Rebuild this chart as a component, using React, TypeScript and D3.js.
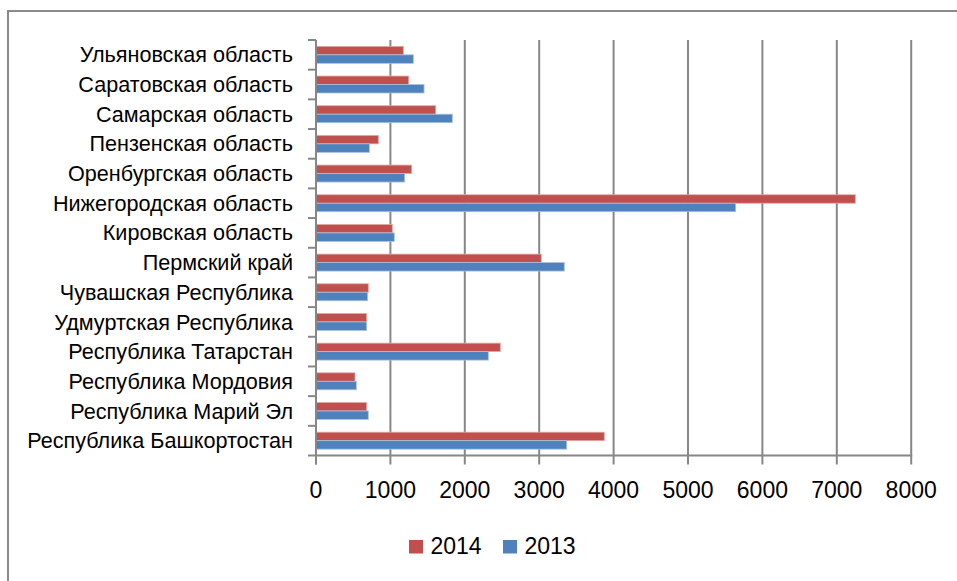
import React from "react";
import * as d3 from "d3";

const categories = [
  "Ульяновская область",
  "Саратовская область",
  "Самарская область",
  "Пензенская область",
  "Оренбургская область",
  "Нижегородская область",
  "Кировская область",
  "Пермский край",
  "Чувашская Республика",
  "Удмуртская Республика",
  "Республика Татарстан",
  "Республика Мордовия",
  "Республика Марий Эл",
  "Республика Башкортостан",
];

const values2014 = [1174, 1246, 1609, 838, 1286, 7249, 1026, 3028, 703, 681, 2477, 524, 681, 3875];
const values2013 = [1308, 1452, 1832, 717, 1192, 5641, 1052, 3337, 694, 681, 2316, 542, 703, 3370];

const seriesNames = ["2014", "2013"];
const seriesColors = ["#C0504D", "#4F81BD"];
const xTicks = [0, 1000, 2000, 3000, 4000, 5000, 6000, 7000, 8000];

const W = 957;
const H = 581;
const FONT = "'Liberation Sans', Arial, sans-serif";

export default function App() {
  const left = 316;
  const right = 911.2;
  const top = 40;
  const bottom = 455.5;

  const x = d3.scaleLinear().domain([0, 8000]).range([left, right]);
  const y = d3
    .scaleBand<string>()
    .domain(categories)
    .range([top, bottom])
    .paddingInner(1.5 / 3.5)
    .paddingOuter(0.75 / 3.5);
  const ys = d3.scaleBand<string>().domain(seriesNames).range([0, y.bandwidth()]);
  const seriesValues = [values2014, values2013];
  const step = y.step();
  const gridColor = "#878787";

  return (
    <svg
      width={W}
      height={H}
      style={{ position: "absolute", left: 0, top: 0, background: "#fff" }}
      fontFamily={FONT}
    >
      <rect x={0} y={0} width={W} height={H} fill="#fff" />
      {/* outer frame */}
      <rect x={8} y={11} width={W + 10} height={H + 10} fill="none" stroke="#8a8a8a" strokeWidth={2} />

      {/* gridlines */}
      {xTicks.slice(1).map((t) => (
        <line key={"g" + t} x1={x(t)} x2={x(t)} y1={top} y2={bottom} stroke={gridColor} strokeWidth={2} />
      ))}

      {/* bars */}
      {categories.map((c, i) =>
        seriesNames.map((s, j) => {
          const v = seriesValues[j][i];
          const by = (y(c) ?? 0) + (ys(s) ?? 0);
          return (
            <rect
              key={c + s}
              x={x(0)}
              y={by}
              width={x(v) - x(0)}
              height={ys.bandwidth()}
              fill={seriesColors[j]}
              stroke={j === 0 ? "#e3a9a7" : "#a9c1de"}
              strokeWidth={0.8}
            />
          );
        })
      )}

      {/* axes */}
      <line x1={left} x2={left} y1={top} y2={bottom + 9} stroke={gridColor} strokeWidth={2} />
      <line x1={left - 8} x2={right + 1} y1={bottom} y2={bottom} stroke={gridColor} strokeWidth={2} />
      {d3.range(categories.length).map((i) => (
        <line
          key={"ct" + i}
          x1={left - 8}
          x2={left}
          y1={top + i * step}
          y2={top + i * step}
          stroke={gridColor}
          strokeWidth={2}
        />
      ))}
      {xTicks.map((t) => (
        <line key={"xt" + t} x1={x(t)} x2={x(t)} y1={bottom} y2={bottom + 9} stroke={gridColor} strokeWidth={2} />
      ))}

      {/* category labels */}
      {categories.map((c) => (
        <text
          key={"l" + c}
          x={293}
          y={(y(c) ?? 0) + y.bandwidth() / 2}
          dy="0.35em"
          textAnchor="end"
          fontSize={21.6}
          fill="#000"
        >
          {c}
        </text>
      ))}

      {/* x tick labels */}
      {xTicks.map((t) => (
        <text key={"xl" + t} x={x(t)} y={498} textAnchor="middle" fontSize={23} fill="#000">
          {t}
        </text>
      ))}

      {/* legend */}
      {seriesNames.map((s, j) => {
        const lx = j === 0 ? 409 : 503;
        return (
          <g key={"lg" + s}>
            <rect x={lx} y={540} width={14} height={13.5} fill={seriesColors[j]} />
            <text x={lx + 21.5} y={554} fontSize={23} fill="#000">
              {s}
            </text>
          </g>
        );
      })}
    </svg>
  );
}
